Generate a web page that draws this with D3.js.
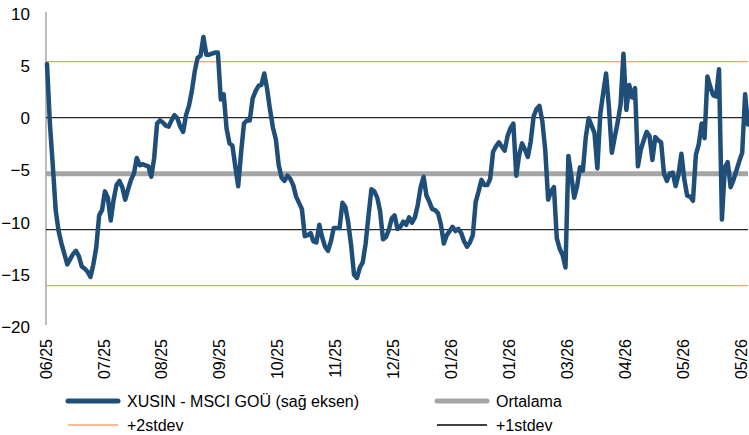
<!DOCTYPE html>
<html>
<head>
<meta charset="utf-8">
<script src="https://cdn.jsdelivr.net/npm/d3@7"></script>
<style>
  html, body { margin: 0; padding: 0; background: #fff; }
  svg text { font-family: "Liberation Sans", Arial, sans-serif; fill: #000; }
</style>
</head>
<body>
<svg id="chart" width="749" height="435"></svg>
<script>
// ---- data ----
const seriesName = "XUSIN - MSCI GOÜ (sağ eksen)";
const seriesValues = [
  5.2, -0.5, -4.5, -8.8, -10.8, -12.0, -13.0, -14.0, -13.5, -13.0,
  -12.7, -13.2, -14.2, -14.4, -14.7, -15.2, -14.0, -12.4, -9.3, -8.8,
  -7.0, -7.6, -9.8, -7.8, -6.4, -6.0, -6.6, -7.8, -6.8, -5.9,
  -5.3, -3.8, -4.5, -4.4, -4.5, -4.6, -5.6, -3.8, -0.5, -0.2,
  -0.4, -0.7, -0.8, -0.2, 0.3, 0.0, -0.8, -1.3, 0.3, 1.2,
  2.6, 4.5, 5.8, 6.0, 7.8, 6.1, 6.1, 6.2, 6.3, 6.3,
  1.8, 2.3, -1.0, -2.4, -2.6, -4.6, -6.5, -3.3, -0.5, -0.2,
  -0.2, 1.9, 2.6, 3.1, 3.2, 4.3, 2.8, 0.8, -0.9, -2.0,
  -4.5, -5.7, -6.0, -5.5, -5.8, -6.4, -7.5, -8.1, -8.7, -11.3,
  -11.2, -11.0, -11.8, -11.9, -10.2, -11.4, -12.3, -12.7, -11.8, -10.5,
  -10.5, -10.5, -8.1, -8.5, -10.0, -12.2, -15.0, -15.3, -14.3, -13.8,
  -12.0, -9.3, -6.8, -7.0, -7.6, -8.9, -11.6, -11.4, -10.7, -9.6,
  -9.3, -10.6, -10.4, -9.9, -10.2, -9.5, -10.0, -9.5, -8.3, -6.6,
  -5.6, -7.4, -8.0, -8.7, -8.8, -9.1, -10.2, -12.0, -11.2, -10.8,
  -10.4, -10.8, -10.6, -11.0, -11.8, -12.3, -11.9, -11.2, -8.0, -7.0,
  -5.9, -6.4, -6.4, -5.8, -3.2, -2.7, -2.3, -2.7, -3.1, -1.7,
  -0.95, -0.5, -5.5, -3.5, -2.4, -3.0, -3.7, -2.2, 0.2, 0.9,
  1.2, -0.3, -3.0, -7.8, -7.0, -6.6, -11.5, -12.5, -13.1, -14.3,
  -3.6, -5.5, -7.6, -6.5, -4.7, -5.0, -1.8, 0.0, -0.7, -1.4,
  -4.8, 0.4, 2.4, 4.3, 1.0, -3.3, -1.8, -0.4, 1.3, 6.2,
  0.8, 3.2, 2.0, 2.9, -4.6, -3.0, -2.1, -1.3, -1.7, -4.0,
  -1.8, -2.1, -2.3, -5.3, -6.0, -5.3, -5.2, -6.5, -5.4, -3.4,
  -5.8, -7.4, -7.5, -7.9, -3.5, -2.5, -0.5, -1.9, 4.0, 3.0,
  2.2, 2.1, 4.7, -9.7, -4.7, -4.2, -6.6, -5.9, -5.0, -4.1,
  -3.3, 2.3, -0.6
];
const tickLabels = ["06/25","07/25","08/25","09/25","10/25","11/25","12/25","01/26","01/26","03/26","04/26","05/26","05/26"];
const tickIndexStep = 20;
const yTicks = [10, 5, 0, -5, -10, -15, -20];
const meanValue = -5.3;
const stdevValue = 5.37;
const legendNames = [seriesName, "Ortalama", "+2stdev", "+1stdev"];

// ---- layout ----
const svg = d3.select("#chart");
const mLeft = 46, mRight = 748, mTop = 14, mBottom = 327;
const fontSize = 16;

const x = d3.scaleLinear().domain([0, seriesValues.length - 1]).range([mLeft + 1, mRight]);
const y = d3.scaleLinear().domain([-20, 10]).range([mBottom, mTop]);

const colors = { series: "#1F4E79", mean: "#A6A6A6", sd2: "#F4A46A", sd1: "#262626" };

// y axis
const yAxis = d3.axisLeft(y).tickValues(yTicks).tickSize(0).tickPadding(0).tickFormat(d3.format("d"));
const gy = svg.append("g").attr("transform", `translate(${mLeft},0)`).call(yAxis);
gy.select(".domain").attr("stroke", "#A6A6A6").attr("stroke-width", 1.5).attr("d", `M0,${mTop - 2}V${mBottom - 2}`);
gy.selectAll(".tick text").attr("x", -16).attr("font-size", fontSize + 1).attr("fill", "#000").attr("text-anchor", "end");

// reference lines
const refLines = [
  { v: meanValue + 2 * stdevValue, c: colors.sd2, w: 1.3 },
  { v: meanValue - 2 * stdevValue, c: colors.sd2, w: 1.3 },
  { v: meanValue + stdevValue, c: colors.sd1, w: 1.1 },
  { v: meanValue - stdevValue, c: colors.sd1, w: 1.1 },
  { v: meanValue, c: colors.mean, w: 5 }
];
svg.append("g").selectAll("line").data(refLines).join("line")
  .attr("x1", mLeft).attr("x2", mRight)
  .attr("y1", d => y(d.v)).attr("y2", d => y(d.v))
  .attr("stroke", d => d.c).attr("stroke-width", d => d.w);

// series line
const line = d3.line().x((d, i) => x(i)).y(d => y(d));
svg.append("path").datum(seriesValues)
  .attr("d", line).attr("fill", "none")
  .attr("stroke", colors.series).attr("stroke-width", 4.5)
  .attr("stroke-linejoin", "round").attr("stroke-linecap", "round");

// x axis labels (rotated)
const tickIdx = tickLabels.map((_, i) => i * tickIndexStep);
const xAxis = d3.axisBottom(x).tickValues(tickIdx).tickSize(0).tickFormat((d, i) => tickLabels[i]);
const gx = svg.append("g").attr("transform", `translate(0,${mBottom})`).call(xAxis);
gx.select(".domain").remove();
gx.selectAll(".tick text")
  .attr("font-size", fontSize).attr("fill", "#000")
  .attr("text-anchor", "end").attr("dy", "0.35em")
  .attr("transform", "translate(-1.5,12) rotate(-90)")
  .attr("x", 0).attr("y", 0);

// legend
const legendItems = [
  { name: legendNames[0], c: colors.series, w: 5, lx: 68, ly: 401 },
  { name: legendNames[1], c: colors.mean, w: 5, lx: 437, ly: 401 },
  { name: legendNames[2], c: colors.sd2, w: 1.5, lx: 68, ly: 425 },
  { name: legendNames[3], c: "#000", w: 1.3, lx: 437, ly: 425 }
];
const lg = svg.append("g").selectAll("g").data(legendItems).join("g")
  .attr("transform", d => `translate(${d.lx},${d.ly})`);
lg.append("line").attr("x1", 0).attr("x2", 50).attr("y1", 0).attr("y2", 0)
  .attr("stroke", d => d.c).attr("stroke-width", d => d.w).attr("stroke-linecap", d => d.w > 3 ? "round" : "butt");
lg.append("text").attr("x", 59).attr("dy", "0.35em").attr("font-size", fontSize).text(d => d.name);
</script>
</body>
</html>
